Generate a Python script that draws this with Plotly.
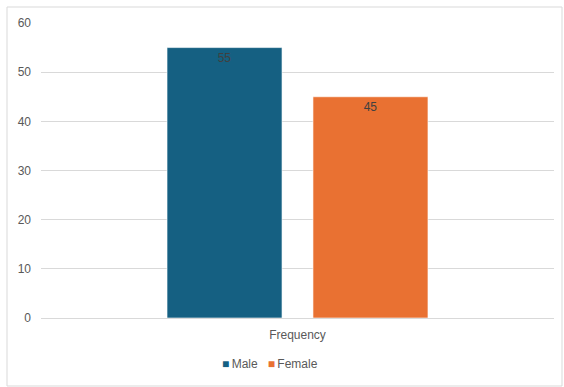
import plotly.graph_objects as go

categories = ["Frequency"]
series_names = ["Male", "Female"]
male_values = [55]
female_values = [45]
colors = ["#156082", "#E97132"]
y_ticks = [0, 10, 20, 30, 40, 50, 60]

W, H = 564, 387
L, R, T, B = 41, 10, 23, 69
pw = W - L - R
ph = H - T - B

def px_x(x):
    return (x - L) / pw

def px_y(y):
    return (H - B - y) / ph

fig = go.Figure()
for name, vals, col in zip(series_names, [male_values, female_values], colors):
    fig.add_trace(go.Bar(
        x=categories, y=vals, name=name,
        marker=dict(color=col, line=dict(color="rgba(255,255,255,0.6)", width=1)),
        text=[str(v) for v in vals], textposition="inside", insidetextanchor="end",
        textfont=dict(family="Liberation Sans, Arial", size=12, color="#404040"),
        cliponaxis=False, showlegend=False,
    ))

legend_text = "&nbsp;&nbsp;&nbsp;".join(
    f"<span style='color:{c}'>■</span>&#8201;{n}" for n, c in zip(series_names, colors)
)

fig.update_layout(
    width=W, height=H,
    margin=dict(l=L, r=R, t=T, b=B, autoexpand=False),
    paper_bgcolor="white", plot_bgcolor="white",
    barmode="group", bargap=0.431, bargroupgap=0.212,
    font=dict(family="Liberation Sans, Arial", size=12, color="#595959"),
    uniformtext=dict(minsize=12, mode="show"),
    annotations=[dict(text=legend_text, xref="paper", yref="paper",
                      x=px_x(270), y=px_y(364), xanchor="center", yanchor="middle",
                      showarrow=False, font=dict(size=12, color="#595959"))],
    shapes=[dict(type="rect", xref="paper", yref="paper",
                 x0=px_x(7), x1=px_x(562), y0=px_y(386), y1=px_y(7),
                 line=dict(color="#d9d9d9", width=1), fillcolor="rgba(0,0,0,0)", layer="below")],
)
fig.update_xaxes(showgrid=False, showline=False, ticks="", tickfont=dict(size=12, color="#595959"),
                 ticklabelstandoff=8)
fig.update_yaxes(range=[0, 60], tickvals=y_ticks, showgrid=True, gridcolor="#d9d9d9", gridwidth=1,
                 zeroline=True, zerolinecolor="#d9d9d9", zerolinewidth=1, showline=False,
                 tickfont=dict(size=12, color="#595959"), ticklabelstandoff=9)

fig.write_html("out.html")
